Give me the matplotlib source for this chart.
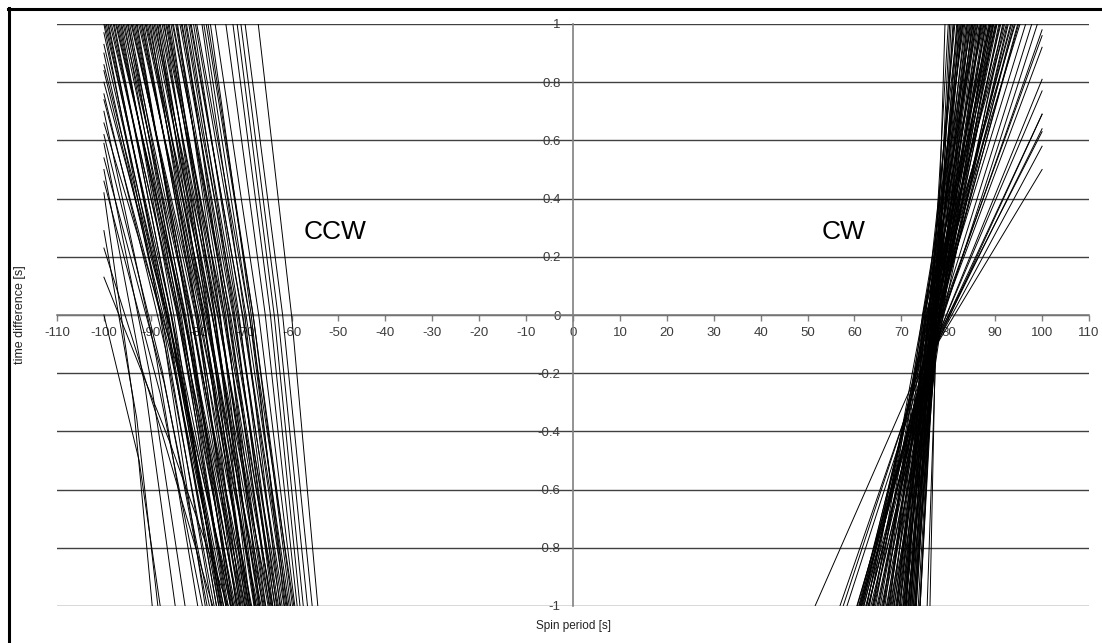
import matplotlib
matplotlib.use('Agg')
import matplotlib.pyplot as plt
from matplotlib.lines import Line2D

plt.rcParams['font.family'] = ['Liberation Sans', 'DejaVu Sans']

# counter-clockwise branch: upper end (x, y), x at half height, x where it meets y = -1
ccw_top_x = [-99.5, -99.0, -98.4, -97.8, -97.3, -96.7, -96.2, -95.6, -95.0, -94.5,
             -94.0, -93.4, -92.9, -92.3, -91.8, -91.2, -90.7, -90.1, -89.6, -89.0,
             -88.5, -88.0, -87.6, -87.1, -86.6, -86.1, -85.7, -85.2, -84.7, -84.3,
             -83.8, -83.3, -82.9, -82.4, -81.9, -81.4, -80.9, -80.5, -79.1, -78.2,
             -77.3, -76.3, -72.5, -71.6, -70.8, -69.9, -67.1,
             -99.8, -99.2, -98.7, -98.0, -97.5, -97.0, -96.4, -95.9, -95.3, -94.8,
             -94.2, -93.7, -93.1, -92.6, -92.0, -91.5, -91.0, -90.4, -89.8, -89.3,
             -88.7, -88.2, -87.3, -86.8, -86.3, -85.4, -84.5, -83.5, -82.6, -81.6,
             -80.2, -78.7, -77.8, -74.0,
             -100, -100, -100, -100, -100, -100, -100, -100, -100, -100,
             -100, -100, -100, -100, -100, -100, -100, -100, -100, -100, -100]
ccw_top_y = [1.0] * 81 + [1.00, 0.97, 0.93, 0.90, 0.86, 0.84, 0.80, 0.76, 0.74, 0.70,
                          0.66, 0.62, 0.59, 0.54, 0.50, 0.46, 0.42, 0.29, 0.23, 0.13, 0.00]
ccw_mid_x = [-86.2, -86.7, -84.4, -85.7, -83.1, -84.3, -83.0, -84.0, -81.5, -82.8,
             -80.5, -81.4, -82.1, -79.1, -80.1, -78.0, -79.0, -80.1, -76.9, -77.7,
             -78.8, -75.7, -76.5, -77.6, -74.6, -75.3, -76.4, -73.5, -74.3, -75.2,
             -72.5, -73.2, -74.0, -71.4, -72.1, -70.5, -71.2, -69.7, -70.0, -68.2,
             -68.6, -67.0, -64.5, -63.7, -62.9, -61.9, -60.0,
             -85.6, -86.3, -84.1, -85.6, -82.9, -83.8, -85.1, -81.6, -82.6, -83.5,
             -79.9, -81.2, -82.0, -78.5, -79.5, -80.4, -77.0, -78.2, -78.8, -75.8,
             -76.9, -77.9, -74.3, -75.4, -76.3, -73.0, -73.6, -71.7, -72.3, -70.4,
             -69.0, -69.0, -68.2, -65.6,
             -88.0, -86.8, -86.0, -87.2, -85.5, -86.2, -85.0, -86.8, -85.8, -88.8,
             -84.5, -87.6, -90.2, -87.2, -91.2, -88.0, -93.8, -93.0, -88.0, -86.0, -92.5]
ccw_bot_x = [-74.5, -76.0, -72.0, -75.2, -70.5, -73.5, -71.5, -74.0, -69.5, -72.8,
             -68.5, -71.0, -73.0, -67.5, -70.0, -66.5, -69.0, -71.8, -65.8, -68.0,
             -70.8, -65.0, -67.0, -69.8, -64.2, -66.2, -68.8, -63.5, -65.5, -67.8,
             -62.8, -64.8, -66.8, -62.0, -64.0, -61.2, -63.2, -60.5, -62.5, -59.8,
             -61.5, -59.3, -58.2, -57.5, -56.6, -55.6, -54.4,
             -73.0, -75.0, -71.2, -74.8, -70.0, -72.3, -75.5, -69.0, -71.6, -73.8,
             -67.2, -70.3, -72.5, -66.0, -68.7, -71.0, -64.6, -67.6, -69.4, -64.0,
             -66.8, -69.2, -63.0, -65.6, -67.9, -62.3, -64.4, -61.6, -63.6, -60.8,
             -59.5, -61.0, -60.2, -58.8,
             -78.4, -76.0, -75.0, -77.0, -74.0, -75.5, -73.0, -76.5, -74.5, -80.0,
             -72.5, -78.0, -82.7, -77.5, -84.8, -79.0, -89.7, -88.5, -76.8, -73.5, -88.0]

# clockwise branch: x where it meets y = -1, x at half height, upper end (x, y)
cw_bot_x = [51.6, 56.9, 57.6, 58.4, 60.6, 61.2, 61.6, 62.4, 62.9, 63.5, 64.0,
            60.5, 61.0, 62.0, 61.5, 63.0, 62.6, 64.2, 63.8, 65.0, 64.5,
            65.8, 66.2, 65.5, 66.8, 67.2, 66.5, 67.6, 68.0, 67.3, 68.4,
            68.8, 68.2, 69.2, 69.6, 69.0, 70.0, 70.4, 69.8, 70.8, 71.2,
            70.6, 71.5, 71.0, 71.8, 72.2, 71.6, 72.5, 72.0, 72.8, 73.1,
            72.6, 71.0, 73.0, 70.5, 73.9, 71.8, 74.0, 72.3, 73.2, 70.8,
            73.6, 75.5, 72.9, 76.1,
            74.0, 72.0, 70.3, 69.0, 67.5, 71.4, 66.2, 68.5, 64.0, 69.5,
            63.2, 67.8, 62.6, 66.0, 61.8, 64.8, 61.2, 63.0, 60.9, 62.0,
            61.4, 71.0, 69.2, 67.0, 65.2]
cw_mid_x = [72.0, 73.8, 74.2, 74.8, 75.6, 76.0, 76.6, 77.2, 77.8, 78.0, 78.5,
            79.0, 78.4, 77.5, 76.2, 78.0, 75.8, 78.3, 77.0, 78.2, 75.2,
            78.2, 79.0, 76.4, 78.1, 77.3, 74.8, 78.1, 78.6, 76.0, 78.1,
            77.2, 75.4, 78.2, 78.8, 76.6, 78.2, 77.5, 75.0, 78.2, 78.3,
            76.9, 77.6, 74.6, 78.1, 77.4, 75.8, 78.0, 76.2, 78.0, 77.3,
            76.6, 75.8, 76.8, 75.6, 77.2, 76.4, 77.4, 76.6, 77.0, 75.8,
            77.2, 77.6, 76.4, 77.4,
            77.2, 76.0, 75.2, 75.8, 75.0, 77.0, 74.5, 76.8, 74.8, 77.6,
            74.6, 77.0, 75.4, 77.4, 75.6, 77.8, 76.0, 78.2, 76.6, 77.5,
            77.8, 76.2, 76.8, 76.0, 76.5]
cw_end_x = [100, 100, 100, 100, 100, 100, 100, 100, 100, 100, 100,
            99.0, 97.8, 96.5, 95.3, 94.8, 94.3, 93.8, 93.3, 92.8, 92.4,
            92.0, 91.6, 91.2, 90.8, 90.4, 90.2, 90.0, 89.7, 89.5, 89.3,
            89.0, 88.8, 88.6, 88.3, 88.0, 87.8, 87.6, 87.3, 87.0, 86.8,
            86.6, 86.3, 86.0, 85.8, 85.6, 85.3, 85.0, 84.7, 84.5, 84.3,
            84.0, 83.8, 83.5, 83.1, 82.8, 82.5, 82.3, 82.1, 81.8, 81.4,
            81.0, 80.6, 80.0, 79.3,
            80.3, 81.2, 82.0, 82.7, 83.3, 84.1, 84.9, 85.5, 86.2, 86.9,
            87.5, 88.1, 88.9, 89.6, 90.3, 91.0, 91.8, 92.6, 93.5, 94.1,
            95.0, 83.0, 85.2, 87.1, 89.1]
cw_end_y = [0.50, 0.58, 0.63, 0.64, 0.69, 0.69, 0.77, 0.81, 0.92, 0.96, 0.98] + [1.0] * 79

xticks = list(range(-110, 111, 10))
yticks = [-1, -0.8, -0.6, -0.4, -0.2, 0, 0.2, 0.4, 0.6, 0.8, 1]
ylabels = ['-1', '-0.8', '-0.6', '-0.4', '-0.2', '0', '0.2', '0.4', '0.6', '0.8', '1']

W, H = 1102, 643
fig = plt.figure(figsize=(W / 100, H / 100), dpi=100)
ax = fig.add_axes([57 / W, 37 / H, 1032 / W, 582 / H])
ax.set_xlim(-110, 110)
ax.set_ylim(-1, 1)

# axes cross at the origin
for side in ['top', 'right']:
    ax.spines[side].set_visible(False)
ax.spines['bottom'].set_position('zero')
ax.spines['left'].set_position('zero')
ax.spines['bottom'].set_color('#808080')
ax.spines['left'].set_color('#808080')
ax.spines['bottom'].set_linewidth(1.2)
ax.spines['left'].set_linewidth(1.2)

ax.set_xticks(xticks)
ax.set_xticklabels([str(v) for v in xticks])
ax.set_yticks(yticks)
ax.set_yticklabels(ylabels)
ax.tick_params(axis='x', direction='out', length=4, width=1, color='#808080',
               labelsize=9.5, labelcolor='#3c3c3c', pad=5)
ax.tick_params(axis='y', length=0, labelsize=9.5, labelcolor='#3c3c3c', pad=9)
ax.yaxis.grid(True, color='#404040', linewidth=1.0)
ax.xaxis.grid(False)
ax.set_axisbelow(True)

for i in range(len(ccw_top_x)):
    yt = ccw_top_y[i]
    ax.plot([ccw_top_x[i], ccw_mid_x[i], ccw_bot_x[i]], [yt, (yt - 1) / 2, -1],
            color='black', linewidth=0.7, zorder=3)

for i in range(len(cw_bot_x)):
    ye = cw_end_y[i]
    ax.plot([cw_bot_x[i], cw_mid_x[i], cw_end_x[i]], [-1, (ye - 1) / 2, ye],
            color='black', linewidth=0.7, zorder=3)

ax.text(-50.7, 0.285, 'CCW', fontsize=19, ha='center', va='center', zorder=4)
ax.text(57.6, 0.285, 'CW', fontsize=19, ha='center', va='center', zorder=4)

fig.text(573 / W, 1 - 626 / H, 'Spin period [s]', fontsize=8.5, color='#222222',
         ha='center', va='center')
fig.text(20 / W, 1 - 315 / H, 'time difference [s]', fontsize=9, color='#222222',
         ha='center', va='center', rotation=90)

# chart frame
fig.add_artist(Line2D([8 / W, 1], [1 - 9 / H, 1 - 9 / H], transform=fig.transFigure,
                      color='black', linewidth=2.2))
fig.add_artist(Line2D([9 / W, 9 / W], [0, 1 - 8 / H], transform=fig.transFigure,
                      color='black', linewidth=2.2))

fig.savefig('out.png', dpi=100)
